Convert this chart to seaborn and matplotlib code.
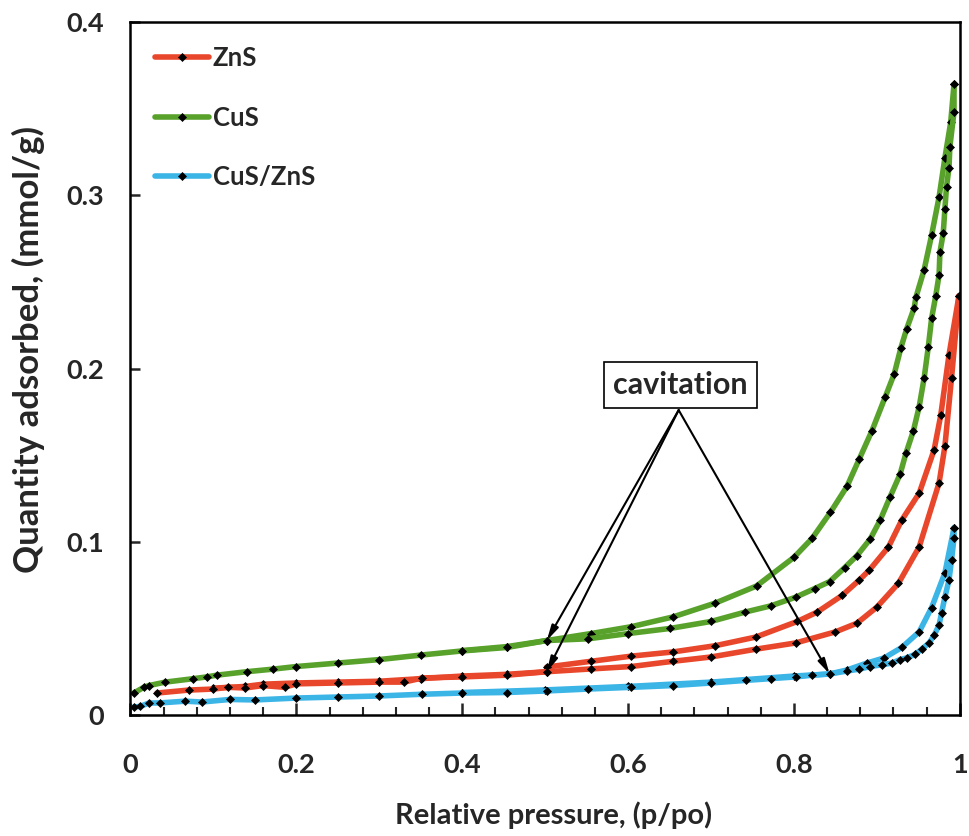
import matplotlib
matplotlib.use("Agg")
import matplotlib.pyplot as plt
import seaborn as sns
import numpy as np

# ---------------- data ----------------
# ZnS
zns_ads_p = [0.032, 0.07, 0.10, 0.118, 0.138, 0.16, 0.186, 0.20, 0.25, 0.30, 0.33, 0.352, 0.40,
             0.454, 0.502, 0.555, 0.604, 0.654, 0.70, 0.754, 0.802, 0.85, 0.876, 0.90, 0.926,
             0.951, 0.975, 0.982, 0.99, 0.999]
zns_ads_q = [0.0127, 0.0144, 0.015, 0.016, 0.0156, 0.017, 0.016, 0.018, 0.0185, 0.019, 0.019, 0.0214,
             0.022, 0.023, 0.025, 0.0266, 0.028, 0.031, 0.0335, 0.038, 0.0416, 0.048, 0.053, 0.0623,
             0.076, 0.097, 0.134, 0.155, 0.1945, 0.242]
zns_des_p = [0.999, 0.987, 0.977, 0.969, 0.951, 0.930, 0.914, 0.891, 0.879, 0.858, 0.828, 0.804,
             0.754, 0.705, 0.654, 0.604, 0.555, 0.502, 0.502, 0.454, 0.40, 0.35, 0.30, 0.25, 0.20,
             0.16, 0.138, 0.10]
zns_des_q = [0.242, 0.208, 0.173, 0.153, 0.128, 0.1125, 0.097, 0.0837, 0.078, 0.069, 0.0594, 0.054,
             0.045, 0.040, 0.0364, 0.034, 0.031, 0.0277, 0.025, 0.0235, 0.0225, 0.021, 0.0195, 0.019,
             0.0185, 0.0178, 0.0165, 0.0155]

# CuS
cus_ads_p = [0.004, 0.016, 0.022, 0.042, 0.076, 0.092, 0.104, 0.14, 0.172, 0.20, 0.25, 0.30, 0.35,
             0.40, 0.454, 0.502, 0.552, 0.60, 0.651, 0.70, 0.741, 0.772, 0.802, 0.825, 0.843, 0.861,
             0.876, 0.892, 0.904, 0.916, 0.928, 0.935, 0.944, 0.951, 0.957, 0.962, 0.966, 0.971,
             0.975, 0.976, 0.980, 0.982, 0.984, 0.987, 0.988, 0.993, 0.993]
cus_ads_q = [0.0127, 0.016, 0.017, 0.019, 0.021, 0.022, 0.023, 0.025, 0.0265, 0.028, 0.030, 0.032,
             0.0346, 0.037, 0.039, 0.043, 0.044, 0.047, 0.050, 0.054, 0.0594, 0.063, 0.068, 0.073,
             0.077, 0.085, 0.092, 0.1016, 0.1125, 0.126, 0.139, 0.151, 0.164, 0.178, 0.1945, 0.2125,
             0.229, 0.242, 0.254, 0.267, 0.278, 0.292, 0.305, 0.316, 0.328, 0.348, 0.364]
cus_des_p = [0.993, 0.989, 0.982, 0.975, 0.966, 0.957, 0.947, 0.945, 0.936, 0.929, 0.921, 0.910,
             0.894, 0.879, 0.864, 0.844, 0.822, 0.80, 0.755, 0.705, 0.654, 0.604, 0.555, 0.502,
             0.454, 0.40]
cus_des_q = [0.364, 0.342, 0.3215, 0.299, 0.277, 0.257, 0.241, 0.235, 0.223, 0.212, 0.197, 0.1835,
             0.164, 0.148, 0.132, 0.117, 0.102, 0.091, 0.0745, 0.0646, 0.0566, 0.051, 0.047, 0.043,
             0.0395, 0.0372]

# CuS/ZnS
mix_ads_p = [0.004, 0.012, 0.022, 0.036, 0.066, 0.086, 0.12, 0.15, 0.20, 0.25, 0.30, 0.352, 0.40,
             0.454, 0.502, 0.552, 0.604, 0.654, 0.70, 0.742, 0.772, 0.802, 0.822, 0.843, 0.864,
             0.879, 0.892, 0.906, 0.918, 0.928, 0.936, 0.946, 0.954, 0.963, 0.969, 0.975, 0.978,
             0.982, 0.987, 0.99, 0.993, 0.993]
mix_ads_q = [0.0046, 0.005, 0.0069, 0.007, 0.008, 0.0075, 0.009, 0.0087, 0.0098, 0.0104, 0.011,
             0.012, 0.0127, 0.013, 0.0139, 0.015, 0.016, 0.017, 0.0185, 0.020, 0.021, 0.022, 0.023,
             0.0237, 0.0254, 0.0265, 0.028, 0.029, 0.030, 0.032, 0.033, 0.035, 0.038, 0.0416, 0.046,
             0.052, 0.059, 0.068, 0.078, 0.0895, 0.102, 0.108]
mix_des_p = [0.993, 0.982, 0.966, 0.951, 0.930, 0.909, 0.888, 0.864, 0.843, 0.80, 0.70, 0.60,
             0.50, 0.40]
mix_des_q = [0.108, 0.082, 0.062, 0.048, 0.039, 0.033, 0.030, 0.026, 0.0237, 0.0225, 0.019, 0.0165,
             0.0145, 0.013]

series_names = ["ZnS", "CuS", "CuS/ZnS"]
series_colors = ["#E8472B", "#58A22C", "#3BB4E6"]

x_ticks = [0, 0.2, 0.4, 0.6, 0.8, 1.0]
x_tick_labels = ["0", "0.2", "0.4", "0.6", "0.8", "1"]
y_ticks = [0, 0.1, 0.2, 0.3, 0.4]
y_tick_labels = ["0", "0.1", "0.2", "0.3", "0.4"]

annot_text = "cavitation"
annot_targets = [(0.502, 0.043), (0.502, 0.025), (0.843, 0.0237)]

# ---------------- plot ----------------
sns.set_style("white")
plt.rcParams["font.family"] = ["Lato", "DejaVu Sans"]
plt.rcParams["font.weight"] = "bold"

fig = plt.figure(figsize=(9.7, 8.36), dpi=100)
ax = fig.add_axes([0.1345, 0.1447, 0.855, 0.829])

branches = [
    (zns_ads_p, zns_ads_q, zns_des_p, zns_des_q),
    (cus_ads_p, cus_ads_q, cus_des_p, cus_des_q),
    (mix_ads_p, mix_ads_q, mix_des_p, mix_des_q),
]
line_kw = dict(sort=False, estimator=None, linewidth=4.0, marker="D", markersize=4.2,
               markerfacecolor="black", markeredgecolor="black", markeredgewidth=0.5)
for name, col, (ap, aq, dp, dq) in zip(series_names, series_colors, branches):
    sns.lineplot(x=dp, y=dq, ax=ax, color=col, **line_kw)
    sns.lineplot(x=ap, y=aq, ax=ax, color=col, label=name, **line_kw)

ax.set_xlim(0, 1)
ax.set_ylim(0, 0.4)
ax.set_xticks(x_ticks)
ax.set_xticklabels(x_tick_labels)
ax.set_yticks(y_ticks)
ax.set_yticklabels(y_tick_labels)
ax.xaxis.set_minor_locator(matplotlib.ticker.MultipleLocator(0.04))
ax.tick_params(axis="x", which="major", direction="in", length=9, width=1.8, pad=27,
               labelsize=19.5, bottom=True)
ax.tick_params(axis="x", which="minor", direction="in", length=6, width=1.5, bottom=True)
ax.tick_params(axis="y", which="major", direction="in", length=7, width=1.8, pad=19,
               labelsize=19.5, left=True)
for lab in ax.get_xticklabels() + ax.get_yticklabels():
    lab.set_fontweight("bold")
for sp in ax.spines.values():
    sp.set_visible(True)
    sp.set_linewidth(1.8)
    sp.set_color("black")

ax.set_xlabel("Relative pressure, (p/po)", fontsize=21, fontweight="bold")
ax.xaxis.set_label_coords(0.51, -0.125)
ax.set_ylabel("Quantity adsorbed, (mmol/g)", fontsize=25, fontweight="bold")
ax.yaxis.set_label_coords(-0.103, 0.528)

leg = ax.legend(loc="upper left", bbox_to_anchor=(0.0, 1.0), frameon=False, fontsize=18.5,
                handlelength=2.1, handletextpad=0.15, labelspacing=1.37, borderaxespad=0.55)
for t in leg.get_texts():
    t.set_fontweight("bold")

apex = (0.661, 0.176)
for tgt in annot_targets:
    ax.annotate("", xy=tgt, xytext=apex,
                arrowprops=dict(arrowstyle="-|>,head_length=0.9,head_width=0.22", lw=1.5,
                                color="black", shrinkA=0, shrinkB=0))
ax.text(0.663, 0.1905, annot_text, fontsize=22, fontweight="bold", ha="center", va="center",
        bbox=dict(boxstyle="square,pad=0.3", facecolor="white", edgecolor="black", linewidth=1.2),
        zorder=5)

fig.savefig("out.png", dpi=100)
